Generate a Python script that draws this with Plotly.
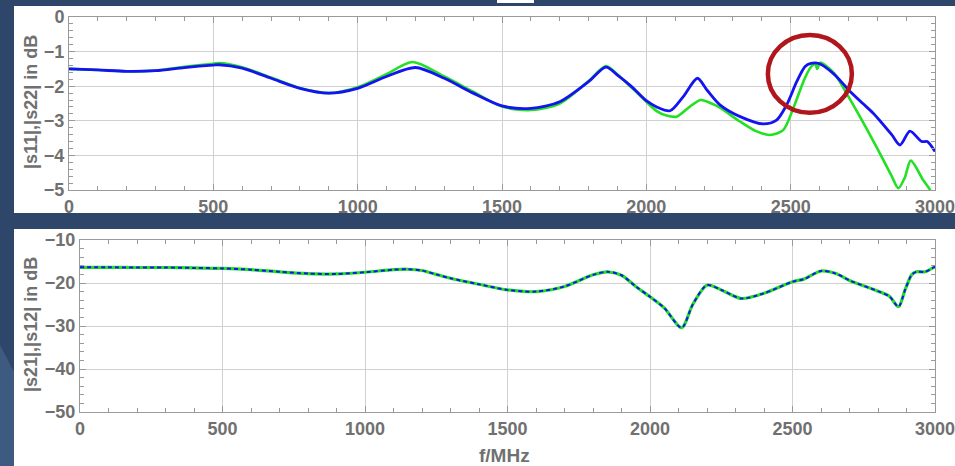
import plotly.graph_objects as go

W, H = 955, 466

# ---- data: top panel (|s11| green, |s22| blue), dB ----
f_s11 = [0, 100, 200, 300, 400, 500, 520, 600, 700, 800, 900, 1000, 1100, 1190, 1300,
         1400, 1500, 1600, 1700, 1800, 1860, 1900, 1950, 2000, 2036, 2070, 2105, 2151,
         2188, 2226, 2255, 2324, 2380, 2428, 2474, 2509, 2544, 2567, 2585, 2592, 2602,
         2650, 2700, 2750, 2800, 2850, 2873, 2895, 2916, 2959, 2983, 3000]
s11 = [-1.50, -1.53, -1.57, -1.55, -1.44, -1.35, -1.33, -1.45, -1.75, -2.05, -2.20, -2.03,
       -1.65, -1.30, -1.72, -2.16, -2.59, -2.69, -2.50, -1.85, -1.42, -1.66, -2.05, -2.45,
       -2.72, -2.85, -2.88, -2.59, -2.40, -2.50, -2.62, -3.02, -3.30, -3.41, -3.27, -2.64,
       -1.87, -1.48, -1.36, -1.50, -1.32, -1.62, -2.30, -3.03, -3.80, -4.60, -4.95, -4.65,
       -4.15, -4.71, -5.00, -5.40]

f_s22 = [0, 100, 200, 300, 400, 500, 520, 600, 700, 800, 900, 1000, 1100, 1200, 1300,
         1400, 1500, 1600, 1700, 1800, 1860, 1900, 1950, 2000, 2036, 2082, 2128, 2177,
         2210, 2255, 2325, 2405, 2451, 2486, 2521, 2550, 2570, 2600, 2650, 2700, 2750,
         2786, 2850, 2879, 2913, 2954, 2973, 3000]
s22 = [-1.50, -1.53, -1.57, -1.55, -1.46, -1.39, -1.38, -1.48, -1.77, -2.06, -2.20, -2.06,
       -1.72, -1.46, -1.77, -2.20, -2.57, -2.64, -2.45, -1.87, -1.45, -1.68, -2.02, -2.42,
       -2.60, -2.71, -2.30, -1.77, -2.11, -2.54, -2.88, -3.09, -2.98, -2.54, -1.87, -1.43,
       -1.34, -1.35, -1.65, -2.10, -2.50, -2.78, -3.40, -3.70, -3.30, -3.60, -3.60, -3.89]

# ---- data: bottom panel (|s21| green, |s12| blue dashed), dB ----
f_s21 = [0, 100, 200, 300, 400, 500, 600, 700, 800, 900, 1000, 1100, 1150, 1200, 1250,
         1300, 1400, 1500, 1600, 1700, 1800, 1850, 1900, 1950, 2000, 2050, 2111, 2150,
         2200, 2250, 2320, 2400, 2500, 2540, 2600, 2650, 2700, 2800, 2840, 2872, 2895,
         2918, 2935, 2965, 3000]
s21 = [-16.35, -16.35, -16.4, -16.4, -16.5, -16.6, -16.9, -17.4, -17.8, -17.9, -17.5,
       -16.9, -16.8, -17.1, -18.0, -18.9, -20.3, -21.6, -22.0, -20.8, -18.1, -17.4, -18.2,
       -20.8, -23.2, -25.8, -30.4, -25.0, -20.5, -21.6, -23.6, -22.4, -19.7, -19.1, -17.2,
       -17.75, -19.4, -21.9, -23.1, -25.5, -21.6, -18.1, -17.4, -17.4, -16.2]
s12 = list(s21)

GREEN = "#22e022"
BLUE = "#1414f0"
GRAY = "#9a9a9a"
TXT = "#707070"
FONT = "Liberation Sans, Arial, sans-serif"

fig = go.Figure()
fig.add_trace(go.Scatter(x=f_s11, y=s11, mode="lines", line=dict(color=GREEN, width=2.6, shape="spline", smoothing=0.8),
                         xaxis="x", yaxis="y"))
fig.add_trace(go.Scatter(x=f_s22, y=s22, mode="lines", line=dict(color=BLUE, width=2.8, shape="spline", smoothing=0.8),
                         xaxis="x", yaxis="y"))
fig.add_trace(go.Scatter(x=f_s21, y=s21, mode="lines", line=dict(color=GREEN, width=3.2, shape="spline", smoothing=0.8),
                         xaxis="x2", yaxis="y2"))
fig.add_trace(go.Scatter(x=f_s21, y=s12, mode="lines", line=dict(color=BLUE, width=2, dash="4px,3px", shape="spline", smoothing=0.8),
                         xaxis="x2", yaxis="y2"))


def px_x(v):
    return v / W


def px_y(v):
    return 1 - v / H


tickfont = dict(family=FONT, size=18, color=TXT, weight="bold")


def xax(dom, anchor):
    return dict(domain=dom, anchor=anchor, range=[0, 3000], dtick=500, tick0=0,
                showgrid=True, gridcolor="#d0d0d0", gridwidth=1,
                ticks="inside", ticklen=6, tickcolor=GRAY, tickwidth=1,
                minor=dict(dtick=100, ticks="inside", ticklen=4, tickcolor=GRAY, showgrid=False),
                showline=True, linecolor=GRAY, linewidth=1, mirror="ticks",
                zeroline=False, tickfont=tickfont, fixedrange=True, ticklabeloverflow="allow")


def yax(dom, anchor, rng, dt, mdt):
    return dict(domain=dom, anchor=anchor, range=rng, dtick=dt, tick0=0,
                showgrid=True, gridcolor="#d0d0d0", gridwidth=1,
                ticks="inside", ticklen=6, tickcolor=GRAY, tickwidth=1,
                minor=dict(dtick=mdt, ticks="inside", ticklen=4, tickcolor=GRAY, showgrid=False),
                showline=True, linecolor=GRAY, linewidth=1, mirror="ticks",
                zeroline=False, tickfont=tickfont, fixedrange=True)


shapes = [
    dict(type="rect", xref="paper", yref="paper", x0=px_x(14), x1=1, y0=px_y(213), y1=px_y(6),
         fillcolor="white", line=dict(width=0), layer="below"),
    dict(type="rect", xref="paper", yref="paper", x0=px_x(14), x1=1, y0=0, y1=px_y(229),
         fillcolor="white", line=dict(width=0), layer="below"),
    dict(type="rect", xref="paper", yref="paper", x0=px_x(497), x1=px_x(534), y0=px_y(3), y1=1,
         fillcolor="white", line=dict(width=0), layer="below"),
    dict(type="path", xref="paper", yref="paper",
         path=f"M 0 {px_y(345)} L {px_x(14)} {px_y(372)} L {px_x(14)} 0 L 0 0 Z",
         fillcolor="#3d5a80", line=dict(width=0), layer="below"),
    dict(type="circle", xref="x", yref="y", x0=2421, x1=2712, y0=-2.77, y1=-0.52,
         line=dict(color="#b0161c", width=4.5)),
]

annotations = [
    dict(text="|s11|,|s22| in dB", xref="paper", yref="paper", x=px_x(31), y=px_y(102),
         textangle=-90, showarrow=False, font=dict(family=FONT, size=18, color=TXT, weight="bold"),
         xanchor="center", yanchor="middle"),
    dict(text="|s21|,|s12| in dB", xref="paper", yref="paper", x=px_x(31), y=px_y(325),
         textangle=-90, showarrow=False, font=dict(family=FONT, size=18, color=TXT, weight="bold"),
         xanchor="center", yanchor="middle"),
    dict(text="f/MHz", xref="paper", yref="paper", x=px_x(505), y=px_y(455),
         showarrow=False, font=dict(family=FONT, size=19, color=TXT, weight="bold"),
         xanchor="center", yanchor="middle"),
]

fig.update_layout(
    width=W, height=H, margin=dict(l=0, r=0, t=0, b=0, pad=0, autoexpand=False),
    paper_bgcolor="#2d4669", plot_bgcolor="white", showlegend=False,
    xaxis=xax([px_x(69), px_x(935)], "y"),
    yaxis=yax([px_y(190), px_y(17)], "x", [-5, 0], 1, 0.2),
    xaxis2=xax([px_x(80), px_x(935)], "y2"),
    yaxis2=yax([px_y(412), px_y(240)], "x2", [-50, -10], 10, 2),
    shapes=shapes, annotations=annotations,
)

fig.write_html("out.html", config={"displayModeBar": False},
               post_script="document.documentElement.style.margin='0';document.body.style.margin='0';"
                           "document.body.style.overflow='hidden';")
